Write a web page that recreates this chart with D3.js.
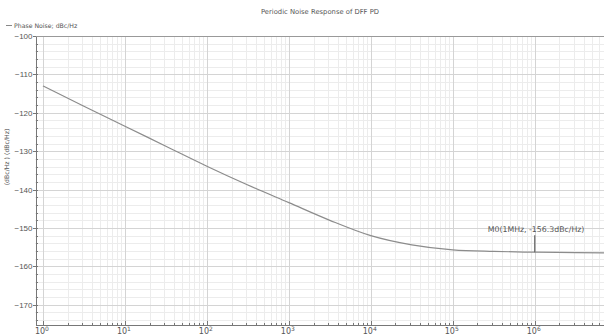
<!DOCTYPE html>
<html>
<head>
<meta charset="utf-8">
<style>
  body { margin: 0; background: #fff; }
  svg { font-family: "DejaVu Sans", sans-serif; display: block; }
  svg text { fill: #555; }
  .grid-major { stroke: #d4d4d4; stroke-width: 1px; shape-rendering: crispEdges; }
  .grid-minor { stroke: #ececec; stroke-width: 1px; shape-rendering: crispEdges; }
  .axis path, .axis line { stroke: #777; shape-rendering: crispEdges; }
  .line { fill: none; stroke: #8c8c8c; stroke-width: 1.2px; }
</style>
<script src="https://cdn.jsdelivr.net/npm/d3@7"></script>
</head>
<body>
<div id="chart"></div>
<script>
var freq = [1, 3.16, 10, 31.6, 100, 316, 1000, 3162, 1e4, 3.16e4, 1e5, 3.16e5, 1e6, 3.16e6, 7e6];
var noise = [-113, -118.3, -123.5, -128.7, -133.9, -138.8, -143.4, -148, -152, -154.4, -155.7, -156.1, -156.3, -156.4, -156.5];
var yTicks = [-100, -110, -120, -130, -140, -150, -160, -170];
var xDecades = [0, 1, 2, 3, 4, 5, 6];
var marker = { f: 1e6, v: -156.3, label: "M0(1MHz, -156.3dBc/Hz)" };

var W = 604, H = 336;
var margin = { top: 36, right: 0, bottom: 12, left: 35 };

var x = d3.scaleLog().domain([0.8, 7e6]).range([margin.left, W - margin.right]);
var y = d3.scaleLinear().domain([-175, -100]).range([H - margin.bottom, margin.top]);

var svg = d3.select("#chart").append("svg").attr("width", W).attr("height", H);

// minor grid
var minorX = [];
xDecades.forEach(function (d) {
  for (var k = 2; k <= 9; k++) {
    var v = k * Math.pow(10, d);
    if (v <= 7e6) minorX.push(v);
  }
});
var minorY = d3.range(-174, -100, 2).filter(function (v) { return v % 10 !== 0; });

svg.append("g").selectAll("line").data(minorX).join("line")
  .attr("class", "grid-minor")
  .attr("x1", function (d) { return Math.round(x(d)) + 0.5; })
  .attr("x2", function (d) { return Math.round(x(d)) + 0.5; })
  .attr("y1", y(-100)).attr("y2", y(-175));
svg.append("g").selectAll("line").data(minorY).join("line")
  .attr("class", "grid-minor")
  .attr("x1", margin.left).attr("x2", W)
  .attr("y1", function (d) { return Math.round(y(d)) + 0.5; })
  .attr("y2", function (d) { return Math.round(y(d)) + 0.5; });

// major grid
svg.append("g").selectAll("line").data(xDecades).join("line")
  .attr("class", "grid-major")
  .attr("x1", function (d) { return Math.round(x(Math.pow(10, d))) + 0.5; })
  .attr("x2", function (d) { return Math.round(x(Math.pow(10, d))) + 0.5; })
  .attr("y1", y(-100)).attr("y2", y(-175));
svg.append("g").selectAll("line").data(yTicks).join("line")
  .attr("class", "grid-major")
  .attr("x1", margin.left).attr("x2", W)
  .attr("y1", function (d) { return Math.round(y(d)) + 0.5; })
  .attr("y2", function (d) { return Math.round(y(d)) + 0.5; });

// frame top
svg.append("line").attr("x1", margin.left).attr("x2", W)
  .attr("y1", y(-100) + 0.5).attr("y2", y(-100) + 0.5)
  .attr("stroke", "#999").attr("shape-rendering", "crispEdges");

// left axis
var yAxis = svg.append("g").attr("class", "axis")
  .attr("transform", "translate(" + (margin.left + 0.5) + ",0)")
  .call(d3.axisLeft(y).tickValues(yTicks).tickSize(3).tickSizeOuter(0).tickFormat(d3.format("d")));
yAxis.selectAll("text").attr("font-size", 8).attr("fill", "#555").attr("x", -3);
svg.append("g").attr("class", "axis")
  .attr("transform", "translate(" + (margin.left + 0.5) + ",0)")
  .call(d3.axisRight(y).tickValues(d3.range(-174, -100, 2)).tickSize(2).tickFormat(""))
  .select(".domain").remove();

// bottom axis
var bottomY = y(-175) + 0.5;
svg.append("g").attr("class", "axis")
  .attr("transform", "translate(0," + bottomY + ")")
  .call(d3.axisTop(x).tickValues(xDecades.map(function (d) { return Math.pow(10, d); })).tickSize(4).tickSizeOuter(0).tickFormat(""));
svg.append("g").attr("class", "axis")
  .attr("transform", "translate(0," + bottomY + ")")
  .call(d3.axisTop(x).tickValues(minorX).tickSize(2).tickFormat(""))
  .select(".domain").remove();

var xl = svg.append("g").selectAll("text").data(xDecades).join("text")
  .attr("x", function (d) { return x(Math.pow(10, d)) - 1; })
  .attr("y", 334)
  .attr("text-anchor", "middle")
  .attr("font-size", 8);
xl.append("tspan").text("10");
xl.append("tspan").attr("dy", -3).attr("font-size", 6).text(function (d) { return d; });

// curve
var line = d3.line()
  .x(function (d, i) { return x(freq[i]); })
  .y(function (d) { return y(d); })
  .curve(d3.curveMonotoneX);
svg.append("path").datum(noise).attr("class", "line").attr("d", line);

// marker
svg.append("line")
  .attr("x1", x(marker.f)).attr("x2", x(marker.f))
  .attr("y1", y(marker.v)).attr("y2", y(marker.v) - 17)
  .attr("stroke", "#666").attr("stroke-width", 1.2);
svg.append("text")
  .attr("x", x(marker.f) - 47).attr("y", y(marker.v) - 20)
  .attr("font-size", 7.8).attr("fill", "#555").text(marker.label);

// titles
svg.append("text").attr("x", 320).attr("y", 14).attr("text-anchor", "middle")
  .attr("font-size", 6.8).text("Periodic Noise Response of DFF PD");
svg.append("line").attr("x1", 6).attr("x2", 12).attr("y1", 25.5).attr("y2", 25.5)
  .attr("stroke", "#888").attr("stroke-width", 1);
svg.append("text").attr("x", 14).attr("y", 28).attr("font-size", 6.2)
  .text("Phase Noise; dBc/Hz");
svg.append("text")
  .attr("transform", "translate(9," + 157 + ") rotate(-90)")
  .attr("text-anchor", "middle").attr("font-size", 6.2)
  .text("(dBc/Hz ) (dBc/Hz)");
</script>
</body>
</html>
